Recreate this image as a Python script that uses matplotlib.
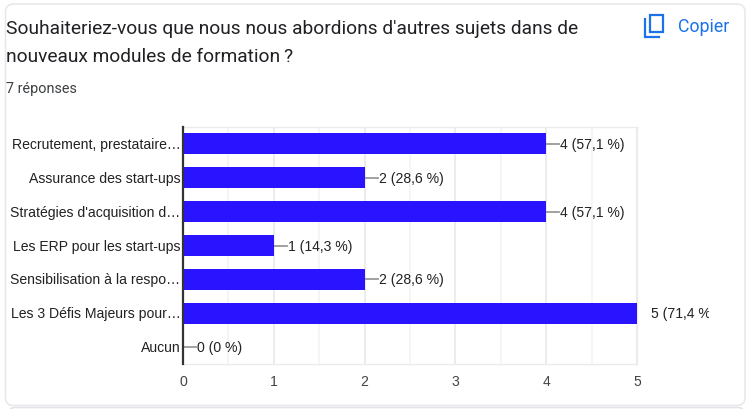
import matplotlib
matplotlib.use('Agg')
import matplotlib.pyplot as plt
from matplotlib.patches import FancyBboxPatch, Rectangle
from matplotlib.transforms import Bbox, ScaledTranslation

categories = ['Recrutement, prestataire…', 'Assurance des start-ups', "Stratégies d'acquisition d…",
              'Les ERP pour les start-ups', 'Sensibilisation à la respo…', 'Les 3 Défis Majeurs pour…', 'Aucun']
values = [4, 2, 4, 1, 2, 5, 0]
value_labels = ['4 (57,1 %)', '2 (28,6 %)', '4 (57,1 %)', '1 (14,3 %)', '2 (28,6 %)', '5 (71,4 %)', '0 (0 %)']
title_lines = ["Souhaiteriez-vous que nous nous abordions d'autres sujets dans de", 'nouveaux modules de formation\u202f?']
subtitle = '7 réponses'

W, H = 754, 410
fig = plt.figure(figsize=(W / 100, H / 100), dpi=100, facecolor='white')

# card background, in pixel coordinates
bg = fig.add_axes([0, 0, 1, 1], zorder=0)
bg.set_xlim(0, W)
bg.set_ylim(H, 0)
bg.axis('off')
bg.add_patch(FancyBboxPatch((5.5, 5), 739.5, 401.5, boxstyle='round,pad=0,rounding_size=8',
                            fc='white', ec='#e6e7ea', lw=1.1))
bg.add_patch(Rectangle((0, 404), 5, 6, fc='white', ec='none'))
bg.add_patch(FancyBboxPatch((9, 408.5), 735, 12, boxstyle='round,pad=0,rounding_size=6',
                            fc='white', ec='#e2e3e6', lw=1.1))

title_font = ['Roboto', 'DejaVu Sans']
bg.text(6.5, 29, title_lines[0], family=title_font, fontsize=13.8, color='#202124', va='center', ha='left')
bg.text(6.5, 57, title_lines[1], family=title_font, fontsize=13.8, color='#202124', va='center', ha='left')
bg.text(6.5, 89.5, subtitle, family='Roboto', fontsize=10.4, color='#3c4043', va='center', ha='left')
bg.text(678, 27, 'Copier', family='Roboto', fontsize=12.8, color='#1a73e8', va='center', ha='left')

# copy icon
bg.add_patch(Rectangle((649.5, 16), 13.5, 16.5, fc='none', ec='#1a73e8', lw=1.6))
bg.plot([645, 645, 659], [20, 37.5, 37.5], color='#1a73e8', lw=1.6, solid_joinstyle='miter')

# plot area: x 183-637, y 128-365 px
ax = fig.add_axes([183 / W, 1 - 365 / H, (637 - 183) / W, (365 - 128) / H], zorder=1)
ax.patch.set_alpha(0)

pos = list(range(len(categories)))
ax.barh(pos, values, height=0.62, color='#2a14ff', zorder=3)
ax.set_xlim(0, 5)
ax.set_ylim(len(categories) - 0.5, -0.5)

ax.set_yticks(pos)
ax.set_yticklabels(categories, family='Liberation Sans', fontsize=10.1, color='#222222', va='center_baseline')
ax.set_xticks([0, 1, 2, 3, 4, 5])
ax.set_xticks([0.5, 1.5, 2.5, 3.5, 4.5], minor=True)
ax.tick_params(axis='y', length=0, pad=1.8)
ax.tick_params(axis='x', which='both', length=0, pad=7)
ax.tick_params(axis='x', labelsize=10.1, labelcolor='#444444')
for lab in ax.get_xticklabels():
    lab.set_family('Liberation Sans')

# nudge row labels up a touch, they sit low otherwise (has to come after tick_params)
nudge = ScaledTranslation(0, 1.4 / 100, fig.dpi_scale_trans)
for lab in ax.get_yticklabels():
    lab.set_transform(lab.get_transform() + nudge)

ax.grid(axis='x', which='major', color='#e9e9e9', lw=1.2, zorder=1)
ax.grid(axis='x', which='minor', color='#f4f4f4', lw=1.2, zorder=1)
ax.set_axisbelow(True)

for side in ['top', 'bottom', 'right']:
    ax.spines[side].set_color('#ebebeb')
    ax.spines[side].set_linewidth(1.0)
ax.spines['left'].set_color('#333333')
ax.spines['left'].set_linewidth(1.6)
ax.spines['left'].set_zorder(5)

clip = Bbox([[0, 0], [709, H]])
for y, v, lab in zip(pos, values, value_labels):
    ax.plot([v, v + 0.145], [y, y], color='#999999', lw=1.3, zorder=2)
    t = ax.text(v + 0.155, y, lab, family='Liberation Sans', fontsize=10.1, color='#222222',
                va='center_baseline', ha='left', clip_on=True, transform=ax.transData + nudge)
    t.set_clip_box(clip)

fig.savefig('out.png', dpi=100)
